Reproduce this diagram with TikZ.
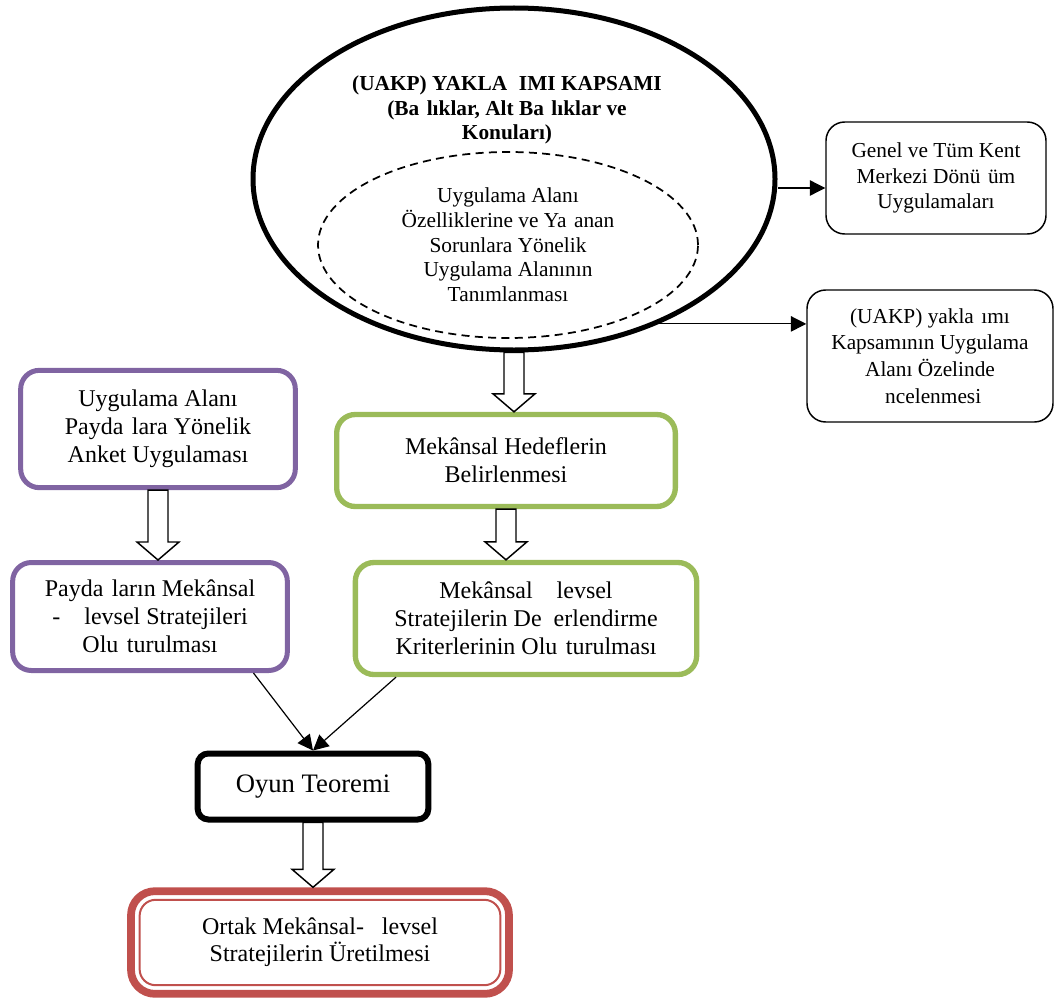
\documentclass[tikz,border=0pt]{standalone}
\usepackage{fontspec}
\setmainfont{Liberation Serif}
\usetikzlibrary{shapes.geometric, arrows.meta, calc}

\definecolor{purpleline}{RGB}{128,100,162}
\definecolor{greenline}{RGB}{155,187,89}
\definecolor{redline}{RGB}{192,80,77}

% gap left by a letter the font did not print
\newcommand{\miss}[1][.35em]{\hspace{#1}}

% hollow block arrow from the bottom of #1 to the top of #2
\newcommand{\fatarrow}[2]{%
  \draw[line width=1.1pt, fill=white] let \p1=(#1.south), \p2=(#2.north) in
    (\x1-7.5pt,\y1) -- (\x1-7.5pt,\y2+13.5pt) -- (\x1-15.75pt,\y2+13.5pt) -- (\x1,\y2)
    -- (\x1+15.75pt,\y2+13.5pt) -- (\x1+7.5pt,\y2+13.5pt) -- (\x1+7.5pt,\y1) -- cycle;}

\begin{document}
\begin{tikzpicture}[x=0.75pt, y=-0.75pt,
  box/.style={draw, rounded corners=14pt, align=center, line width=1.1pt, font=\fontsize{16}{19}\selectfont},
  purplebox/.style={box, draw=purpleline, line width=3.75pt, font=\fontsize{18}{21}\selectfont},
  greenbox/.style={purplebox, draw=greenline, line width=4pt},
  ok/.style={-{Triangle[length=11.5pt,width=11.5pt]}, line width=0.9pt}]

  \useasboundingbox (0,0) rectangle (1056,999);

  % Scope ellipse
  \node[draw, ellipse, line width=3.75pt, minimum width=391.5pt, minimum height=256.5pt] (kapsam) at (514,179) {};
  \node[align=center, font=\bfseries\fontsize{16}{18.5}\selectfont] (baslik) at (507,110)
    {(UAKP) YAKLA\miss[.55em]IMI KAPSAMI\\(Ba\miss lıklar, Alt Ba\miss lıklar ve\\Konuları)};
  \node[draw, ellipse, dashed, dash pattern=on 6pt off 4pt, line width=1.3pt, inner sep=0pt,
        minimum width=285pt, minimum height=139.5pt, align=center, font=\fontsize{16}{18.5}\selectfont] (alan) at (508,245)
    {Uygulama Alanı\\Özelliklerine ve Ya\miss anan\\Sorunlara Yönelik\\Uygulama Alanının\\Tanımlanması};

  % Right column
  \node[box, minimum width=165pt, minimum height=84pt] (genel) at (936,178)
    {Genel ve Tüm Kent\\Merkezi Dönü\miss üm\\Uygulamaları};
  \node[box, minimum width=184.5pt, minimum height=99pt, font=\fontsize{16}{20}\selectfont] (incele) at (930,356)
    {(UAKP) yakla\miss ımı\\Kapsamının Uygulama\\Alanı Özelinde\\\hspace*{.3em}ncelenmesi};

  % Left column
  \node[purplebox, minimum width=206pt, minimum height=88pt] (anket) at (158,429)
    {Uygulama Alanı\\Payda\miss lara Yönelik\\Anket Uygulaması};
  \node[purplebox, minimum width=206pt, minimum height=81pt] (strateji) at (150,616.5)
    {Payda\miss ların Mekânsal\\-\miss[1em]levsel Stratejileri\\Olu\miss turulması};

  % Middle column
  \node[greenbox, minimum width=254pt, minimum height=69pt] (hedef) at (506,460.5)
    {Mekânsal Hedeflerin\\Belirlenmesi};
  \node[greenbox, minimum width=256pt, minimum height=84pt] (kriter) at (526,618.5)
    {Mekânsal\miss[1em]levsel\\Stratejilerin De\miss[.5em]erlendirme\\Kriterlerinin Olu\miss turulması};

  % Bottom
  \node[box, line width=4.5pt, rounded corners=8pt, minimum width=173pt, minimum height=49.5pt,
        font=\fontsize{20}{24}\selectfont] (oyun) at (313,786.5) {Oyun Teoremi};
  \node[box, draw=redline, line width=5.8pt, rounded corners=18pt, minimum width=283.5pt, minimum height=77pt,
        font=\fontsize{18}{20.5}\selectfont] (ortak) at (320,942.5)
    {Ortak Mekânsal-\miss[.75em]levsel\\Stratejilerin Üretilmesi};
  \draw[redline, line width=1.5pt, rounded corners=12pt]
    ([shift={(12.5,12.5)}]ortak.north west) rectangle ([shift={(-12.5,-12.5)}]ortak.south east);

  % Thin arrows
  \coordinate (g-in) at ([yshift=-7.5pt]genel.west);
  \draw[ok] (kapsam.east |- g-in) -- (g-in);
  \draw[ok] (kapsam.-45) -- (kapsam.-45 -| incele.west);
  \draw[ok] ($(strateji.south)!0.74!(strateji.south east)$) -- (oyun.north);
  \draw[ok] ($(kriter.south)!0.75!(kriter.south west)$) -- (oyun.north);

  % Block arrows
  \fatarrow{kapsam}{hedef}
  \fatarrow{hedef}{kriter}
  \fatarrow{anket}{strateji}
  \fatarrow{oyun}{ortak}

\end{tikzpicture}
\end{document}
